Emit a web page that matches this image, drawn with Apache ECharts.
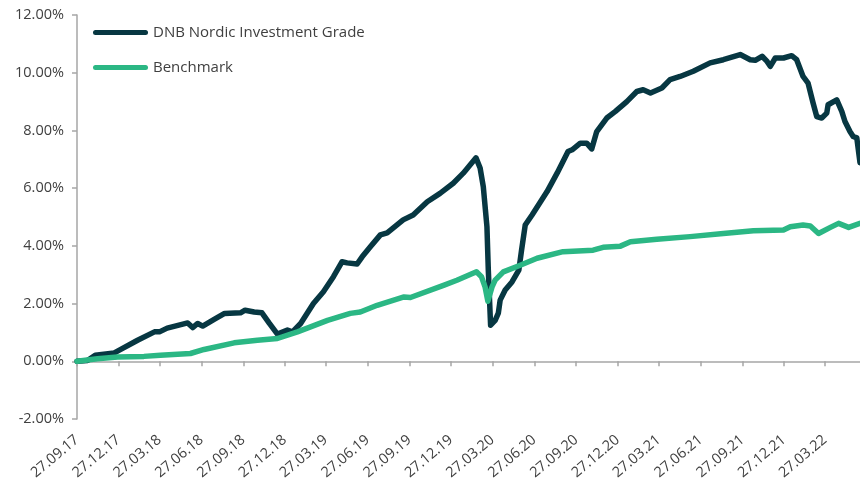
<!DOCTYPE html>
<html>
<head>
<meta charset="utf-8">
<script src="https://cdn.jsdelivr.net/npm/echarts@6/dist/echarts.min.js"></script>
<style>
html,body{margin:0;padding:0;background:#fff}
#chart{width:860px;height:498px}
</style>
</head>
<body>
<div id="chart"></div>
<script>
// quarterly tick labels shown on the date axis
const quarterLabels = ['27.09.17','27.12.17','27.03.18','27.06.18','27.09.18','27.12.18','27.03.19','27.06.19','27.09.19','27.12.19','27.03.20','27.06.20','27.09.20','27.12.20','27.03.21','27.06.21','27.09.21','27.12.21','27.03.22']
const firstDay = '2017-09-27'
const lastDay = '2022-06-12'

// DNB Nordic Investment Grade (cumulative return, %)
const dnbDates = ['2017-09-27','2017-10-20','2017-11-06','2017-12-18','2017-12-28','2018-02-07','2018-03-16','2018-03-27','2018-04-13','2018-05-28',
  '2018-06-08','2018-06-19','2018-06-30','2018-07-26','2018-08-17','2018-09-21','2018-10-01','2018-10-21','2018-11-07','2018-11-23',
  '2018-12-11','2019-01-02','2019-01-13','2019-01-31','2019-02-28','2019-03-22','2019-04-13','2019-05-02','2019-05-13','2019-06-04',
  '2019-06-15','2019-07-03','2019-07-25','2019-08-09','2019-09-13','2019-10-05','2019-11-05','2019-12-03','2020-01-01','2020-01-23',
  '2020-02-20','2020-02-29','2020-03-07','2020-03-15','2020-03-18','2020-03-23','2020-04-02','2020-04-09','2020-04-13','2020-04-24',
  '2020-05-09','2020-05-24','2020-05-30','2020-06-07','2020-06-22','2020-07-25','2020-08-16','2020-09-09','2020-09-18','2020-10-06',
  '2020-10-20','2020-10-31','2020-11-11','2020-12-03','2020-12-22','2021-01-16','2021-02-07','2021-02-21','2021-03-09','2021-04-03',
  '2021-04-21','2021-05-13','2021-06-11','2021-07-18','2021-08-16','2021-09-22','2021-10-14','2021-10-25','2021-11-09','2021-11-20',
  '2021-11-27','2021-12-08','2021-12-26','2022-01-13','2022-01-24','2022-02-07','2022-02-18','2022-03-01','2022-03-09','2022-03-20',
  '2022-03-31','2022-04-03','2022-04-22','2022-05-03','2022-05-10','2022-05-21','2022-05-28','2022-06-05','2022-06-12']
const dnbValues = [0.00,0.03,0.21,0.29,0.38,0.73,1.02,1.02,1.15,1.33,
  1.17,1.31,1.22,1.46,1.66,1.68,1.77,1.71,1.68,1.32,
  0.94,1.08,1.02,1.31,2.00,2.41,2.93,3.45,3.41,3.37,
  3.62,3.97,4.38,4.45,4.90,5.07,5.53,5.82,6.17,6.52,
  7.05,6.70,6.05,4.66,3.16,1.25,1.42,1.67,2.12,2.47,
  2.75,3.16,3.85,4.72,5.07,5.88,6.52,7.27,7.33,7.56,
  7.56,7.36,7.96,8.43,8.66,9.00,9.35,9.41,9.30,9.47,
  9.76,9.87,10.05,10.34,10.45,10.63,10.45,10.43,10.57,10.39,
  10.22,10.51,10.51,10.59,10.45,9.87,9.64,8.95,8.48,8.43,
  8.60,8.89,9.06,8.66,8.31,7.96,7.79,7.74,6.88]

// Benchmark
const benchDates = ['2017-09-27','2017-11-11','2017-12-25','2018-02-21','2018-03-29','2018-06-03','2018-07-03','2018-09-07','2018-10-28','2018-12-11',
  '2019-01-24','2019-03-31','2019-05-20','2019-06-11','2019-07-18','2019-09-15','2019-09-29','2019-12-12','2020-01-09','2020-02-21',
  '2020-03-03','2020-03-11','2020-03-17','2020-03-26','2020-04-02','2020-04-20','2020-05-27','2020-07-03','2020-08-29','2020-11-03',
  '2020-11-25','2021-01-02','2021-01-24','2021-03-23','2021-06-04','2021-08-16','2021-10-21','2021-12-26','2022-01-10','2022-02-07',
  '2022-02-23','2022-03-13','2022-04-08','2022-04-26','2022-05-18','2022-06-12']
const benchValues = [0.00,0.09,0.15,0.17,0.21,0.27,0.41,0.64,0.73,0.79,
  1.02,1.42,1.66,1.71,1.94,2.23,2.21,2.64,2.81,3.10,
  2.93,2.57,2.08,2.57,2.81,3.10,3.33,3.57,3.80,3.85,
  3.95,3.99,4.14,4.23,4.32,4.43,4.52,4.55,4.66,4.72,
  4.69,4.43,4.64,4.78,4.64,4.78]

// every calendar day between first and last date = axis categories
const days = []
for (let t = Date.parse(firstDay); t <= Date.parse(lastDay); t += 86400000) {
  days.push(new Date(t).toISOString().slice(0, 10))
}
const fmtDay = d => d.slice(8, 10) + '.' + d.slice(5, 7) + '.' + d.slice(2, 4)
const isQuarter = (i, d) => quarterLabels.indexOf(fmtDay(d)) >= 0

const font = '"Open Sans", "Noto Sans", sans-serif'
const axisGrey = '#a6a6a6'
const textCol = '#404040'

const myChart = echarts.init(document.getElementById('chart'))
const option = {
  animation: false,
  textStyle: { fontFamily: font },
  grid: { left: 77, right: 0, top: 15, bottom: 79 },
  legend: {
    orient: 'vertical',
    left: 88, top: 20,
    itemWidth: 55, itemHeight: 5, itemGap: 20,
    icon: 'path://M2.5,0 L52.5,0 A2.5,2.5 0 0 1 52.5,5 L2.5,5 A2.5,2.5 0 0 1 2.5,0 Z',
    textStyle: { fontSize: 15, color: textCol, fontFamily: font }
  },
  xAxis: [
    {
      // labels along the bottom
      type: 'category', data: days, boundaryGap: false,
      axisLine: { show: false, onZero: false },
      axisTick: { show: false },
      axisLabel: {
        interval: isQuarter, rotate: 40, margin: 19,
        fontSize: 14.5, color: textCol, fontFamily: font,
        formatter: fmtDay
      }
    },
    {
      // axis line + ticks sitting on 0%
      type: 'category', data: days, boundaryGap: false, position: 'bottom',
      axisLine: { show: true, onZero: true, lineStyle: { color: axisGrey, width: 1.5 } },
      axisTick: { show: true, interval: isQuarter, length: 5, lineStyle: { color: axisGrey, width: 1.5 } },
      axisLabel: { show: false }
    }
  ],
  yAxis: {
    type: 'value', min: -2, max: 12, interval: 2,
    splitLine: { show: false },
    axisLine: { show: true, lineStyle: { color: axisGrey, width: 1.5 } },
    axisTick: { show: true, length: 5, lineStyle: { color: axisGrey, width: 1.5 } },
    axisLabel: {
      margin: 13, fontSize: 14.5, color: textCol, fontFamily: font,
      formatter: v => v.toFixed(2) + '%'
    }
  },
  series: [
    {
      name: 'DNB Nordic Investment Grade',
      type: 'line', xAxisIndex: 0, symbol: 'none',
      color: '#073742',
      lineStyle: { width: 5.5, cap: 'round', join: 'round' },
      data: dnbDates.map((d, i) => [d, dnbValues[i]])
    },
    {
      name: 'Benchmark',
      type: 'line', xAxisIndex: 0, symbol: 'none',
      color: '#2bb784',
      lineStyle: { width: 5.5, cap: 'round', join: 'round' },
      data: benchDates.map((d, i) => [d, benchValues[i]])
    }
  ]
}
myChart.setOption(option)
</script>
</body>
</html>
